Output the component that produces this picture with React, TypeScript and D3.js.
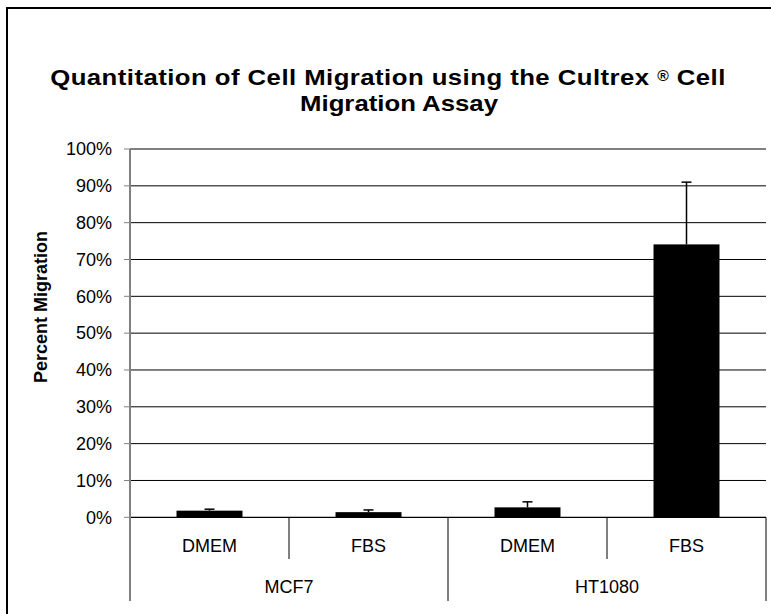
import React from 'react';
import * as d3 from 'd3';

const WIDTH = 771;
const HEIGHT = 614;

// data
const groups = ['MCF7', 'HT1080'];
const conditions = ['DMEM', 'FBS', 'DMEM', 'FBS'];
const groupOf = ['MCF7', 'MCF7', 'HT1080', 'HT1080'];
const migration = [0.018, 0.014, 0.027, 0.741];
const errorPlus = [0.004, 0.006, 0.015, 0.169];
const yTicks = [0, 0.1, 0.2, 0.3, 0.4, 0.5, 0.6, 0.7, 0.8, 0.9, 1.0];

const FONT = "Arial, 'Liberation Sans', sans-serif";

function App() {
  const PLOT_LEFT = 130;
  const PLOT_RIGHT = 766;
  const PLOT_TOP = 149;
  const PLOT_BOTTOM = 517.3;
  const AXIS_BOTTOM = 601;

  const idx = conditions.map((_, i) => i);

  const x = d3
    .scaleBand<number>()
    .domain(idx)
    .range([PLOT_LEFT, PLOT_RIGHT])
    .paddingInner(0.585)
    .paddingOuter(0.2925);
  const step = x.step();

  const y = d3.scaleLinear().domain([0, 1]).range([PLOT_BOTTOM, PLOT_TOP]);
  const fmt = d3.format('.0%');

  // x positions of the category dividers
  const divider = (i: number) => PLOT_LEFT + i * step;

  return (
    <div style={{ position: 'absolute', left: 0, top: 0 }}>
      <svg width={WIDTH} height={HEIGHT} style={{ display: 'block', background: '#fff' }} fontFamily={FONT}>
        {/* chart frame */}
        <rect x={7} y={8} width={WIDTH} height={HEIGHT} fill="none" stroke="#000" strokeWidth={2} />

        {/* title - the original font is a little wider than ours */}
        <g transform="translate(388, 0) scale(1.12, 1)">
          <text x={0} y={85} textAnchor="middle" fontSize={23} fontWeight="bold" letterSpacing={0.4}>
            Quantitation of Cell Migration using the Cultrex{' '}
            <tspan fontSize={14} dy={-4}>®</tspan>
            <tspan dy={4}> Cell</tspan>
          </text>
        </g>
        <g transform="translate(399, 0) scale(1.12, 1)">
          <text x={0} y={111} textAnchor="middle" fontSize={23} fontWeight="bold">
            Migration Assay
          </text>
        </g>

        {/* y axis title */}
        <text
          transform={`translate(47, 307) rotate(-90)`}
          textAnchor="middle"
          fontSize={18}
          fontWeight="bold"
        >
          Percent Migration
        </text>

        {/* gridlines */}
        {yTicks.slice(1).map(t => (
          <line key={t} x1={PLOT_LEFT} x2={PLOT_RIGHT} y1={y(t)} y2={y(t)} stroke="#000" strokeWidth={1} />
        ))}

        {/* y ticks + labels */}
        {yTicks.map(t => (
          <g key={'t' + t}>
            <line x1={PLOT_LEFT - 6} x2={PLOT_LEFT} y1={y(t)} y2={y(t)} stroke="#808080" strokeWidth={1} />
            <text x={112} y={y(t)} dy="0.35em" textAnchor="end" fontSize={18}>
              {fmt(t)}
            </text>
          </g>
        ))}

        {/* bars */}
        {idx.map(i => (
          <rect
            key={'b' + i}
            x={x(i)}
            y={y(migration[i])}
            width={x.bandwidth()}
            height={y(0) - y(migration[i])}
            fill="#000"
          />
        ))}

        {/* error bars (plus only) */}
        {idx.map(i => {
          const cx = (x(i) as number) + x.bandwidth() / 2;
          const top = y(migration[i] + errorPlus[i]);
          return (
            <g key={'e' + i} stroke="#000" strokeWidth={1.5}>
              <line x1={cx} x2={cx} y1={y(migration[i])} y2={top} />
              <line x1={cx - 5} x2={cx + 5} y1={top} y2={top} />
            </g>
          );
        })}

        {/* category axis */}
        <line x1={PLOT_LEFT} x2={PLOT_RIGHT} y1={y(0)} y2={y(0)} stroke="#000" strokeWidth={1.2} />
        {idx.slice(1).map(i => (
          <line
            key={'d' + i}
            x1={divider(i)}
            x2={divider(i)}
            y1={y(0)}
            y2={i % 2 === 0 ? AXIS_BOTTOM : 559}
            stroke="#000"
            strokeWidth={1}
          />
        ))}
        <line x1={PLOT_RIGHT} x2={PLOT_RIGHT} y1={y(0)} y2={AXIS_BOTTOM} stroke="#000" strokeWidth={1} />

        {idx.map(i => (
          <text
            key={'c' + i}
            x={(x(i) as number) + x.bandwidth() / 2}
            y={546}
            dy="0.35em"
            textAnchor="middle"
            fontSize={18}
          >
            {conditions[i]}
          </text>
        ))}
        {groups.map(g => {
          const members = idx.filter(i => groupOf[i] === g);
          const cx = (divider(members[0]) + divider(members[members.length - 1] + 1)) / 2;
          return (
            <text key={g} x={cx} y={587} dy="0.35em" textAnchor="middle" fontSize={18}>
              {g}
            </text>
          );
        })}

        {/* y axis line */}
        <line x1={PLOT_LEFT} x2={PLOT_LEFT} y1={PLOT_TOP} y2={AXIS_BOTTOM} stroke="#808080" strokeWidth={2} />
      </svg>
    </div>
  );
}

export default App;
